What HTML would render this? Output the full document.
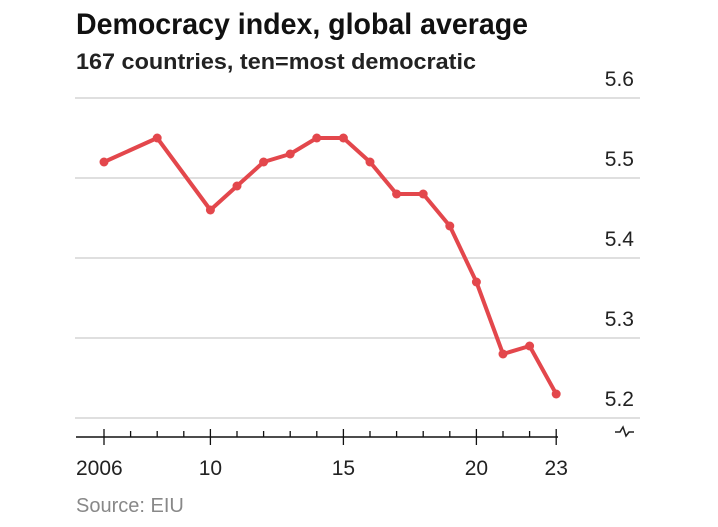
<!DOCTYPE html>
<html><head><meta charset="utf-8"><style>
body{margin:0;background:#fff;font-family:"Liberation Sans",sans-serif}
</style></head><body>
<svg width="718" height="522" viewBox="0 0 718 522">
<text x="76" y="34" font-size="30" font-weight="bold" fill="#111" textLength="452" lengthAdjust="spacingAndGlyphs">Democracy index, global average</text>
<text x="76" y="69" font-size="22" font-weight="bold" fill="#222" textLength="400" lengthAdjust="spacingAndGlyphs">167 countries, ten=most democratic</text>
<g id="grid"></g><g id="xaxis"></g><g id="series"></g>
<path d="M615 432 l5 0 l3 -5 l3 9 l3 -4 l5 0" stroke="#222" stroke-width="1.5" fill="none"/>
<text x="76" y="512" font-size="20" fill="#888">Source: EIU</text>
</svg>
<script>
const years=[2006,2008,2010,2011,2012,2013,2014,2015,2016,2017,2018,2019,2020,2021,2022,2023];
const values=[5.52,5.55,5.46,5.49,5.52,5.53,5.55,5.55,5.52,5.48,5.48,5.44,5.37,5.28,5.29,5.23];
const yTicks=[5.2,5.3,5.4,5.5,5.6];
const yTickLabels=["5.2","5.3","5.4","5.5","5.6"];
const xLabelYears=[2006,2010,2015,2020,2023];
const xLabels=["2006","10","15","20","23"];
const ns="http://www.w3.org/2000/svg";
const X=y=>104+(y-2006)*26.6;
const Y=v=>418-(v-5.2)*800;
function mk(t,a,p){const e=document.createElementNS(ns,t);for(const k in a)e.setAttribute(k,a[k]);p.appendChild(e);return e;}
const g=document.getElementById('grid');
yTicks.forEach((v,i)=>{
 const l=mk('line',{x1:75,x2:640,y1:Y(v),y2:Y(v),stroke:'#ccc','stroke-width':1.2},g);
 
 
 const t=mk('text',{x:634,y:Y(v)-12,'text-anchor':'end','font-size':21,fill:'#222'},g);
 t.textContent=yTickLabels[i];
 
 
});
const xa=document.getElementById('xaxis');
const al=mk('line',{x1:76,x2:558,y1:437,y2:437,stroke:'#111','stroke-width':1.5},xa);


for(let y=2006;y<=2023;y++){
 const major=xLabelYears.includes(y);
 const tk=mk('line',{x1:X(y),x2:X(y),y1:major?429:431,y2:major?445:437,stroke:'#111','stroke-width':1.3},xa);
 
 
}
xLabelYears.forEach((y,i)=>{
 const t=mk('text',{x:X(y),y:475,'text-anchor':'middle','font-size':21,fill:'#222'},xa);
 if(i===0){t.setAttribute('text-anchor','start');t.setAttribute('x',X(y)-28);}
 t.textContent=xLabels[i];
 
 
});
const s=document.getElementById('series');
const pl=mk('polyline',{points:years.map((y,i)=>X(y)+','+Y(values[i])).join(' '),fill:'none',stroke:'#e3474c','stroke-width':4,'stroke-linejoin':'round'},s);


years.forEach((y,i)=>{
 const c=mk('circle',{cx:X(y),cy:Y(values[i]),r:4.5,fill:'#e3474c'},s);
 
 
});
</script>
</body></html>
